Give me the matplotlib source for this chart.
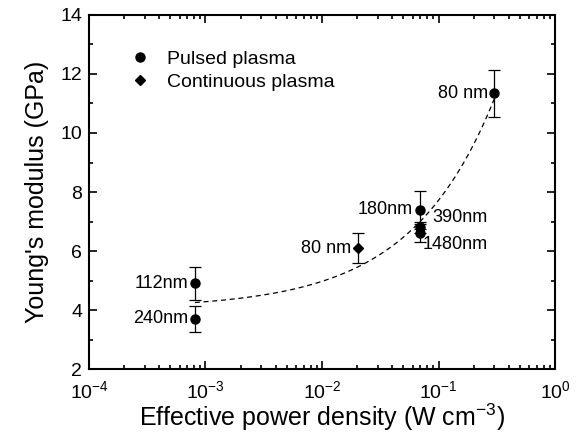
import numpy as np
import matplotlib
matplotlib.use("Agg")
from matplotlib import pyplot as plt
from matplotlib.ticker import MultipleLocator, LogLocator, NullFormatter

plt.rcParams['font.family'] = ['Liberation Sans', 'DejaVu Sans']
plt.rcParams['mathtext.fontset'] = 'custom'
plt.rcParams['mathtext.rm'] = 'Liberation Sans'

# Pulsed plasma data
pulsed_x = [8.1e-4, 8.1e-4, 0.069, 0.069, 0.069, 0.30]
pulsed_y = [4.9, 3.7, 7.4, 6.8, 6.6, 11.35]
pulsed_err = [0.55, 0.45, 0.65, 0.2, 0.3, 0.8]
pulsed_labels = ['112nm', '240nm', '180nm', '390nm', '1480nm', '80 nm']

# Continuous plasma data
cont_x = [0.0202]
cont_y = [6.1]
cont_err = [0.5]
cont_labels = ['80 nm']

# Fit curve y = a + b * x^c (parameters)
fit_a, fit_b, fit_c = 4.05, 14.6, 0.6
fit_xmin, fit_xmax = 8.1e-4, 0.30

fig = plt.figure(figsize=(5.87, 4.46), dpi=100)
ax = fig.add_axes([0.1516, 0.1726, 0.7939, 0.7938])

fx = np.logspace(np.log10(fit_xmin), np.log10(fit_xmax), 200)
ax.plot(fx, fit_a + fit_b * fx ** fit_c, 'k--', lw=0.9, dashes=(4, 3))

ax.errorbar(pulsed_x, pulsed_y, yerr=pulsed_err, fmt='none', ecolor='k',
            capsize=4, elinewidth=0.9, capthick=0.9)
ax.errorbar(cont_x, cont_y, yerr=cont_err, fmt='none', ecolor='k',
            capsize=4, elinewidth=0.9, capthick=0.9)
ax.plot(pulsed_x, pulsed_y, 'o', color='k', ms=6.5, ls='none', label='Pulsed plasma')
ax.plot(cont_x, cont_y, 'D', color='k', ms=5.5, ls='none', label='Continuous plasma')

# annotations
fs = 13
offsets = {'112nm': (-5, 0, 'right', 'center'),
           '240nm': (-5, 0, 'right', 'center'),
           '180nm': (-5, 0, 'right', 'center'),
           '390nm': (9, 7, 'left', 'center'),
           '1480nm': (2, -8, 'left', 'center'),
           '80 nm': (-4, 0, 'right', 'center')}
for x, y, t in zip(pulsed_x, pulsed_y, pulsed_labels):
    dx, dy, ha, va = offsets[t]
    ax.annotate(t, (x, y), xytext=(dx, dy), textcoords='offset points',
                ha=ha, va=va, fontsize=fs)
for x, y, t in zip(cont_x, cont_y, cont_labels):
    ax.annotate(t, (x, y), xytext=(-5, 0), textcoords='offset points',
                ha='right', va='center', fontsize=fs)

ax.set_xscale('log')
ax.set_xlim(1e-4, 1)
ax.set_ylim(2, 14)
ax.yaxis.set_major_locator(MultipleLocator(2))
ax.yaxis.set_minor_locator(MultipleLocator(1))
ax.xaxis.set_major_locator(LogLocator(base=10, numticks=10))
ax.xaxis.set_minor_locator(LogLocator(base=10, subs=np.arange(2, 10), numticks=10))
ax.xaxis.set_minor_formatter(NullFormatter())

ax.tick_params(which='both', direction='in', top=True, right=True, width=1.2)
ax.tick_params(which='major', length=6, labelsize=14)
ax.tick_params(which='minor', length=3)
ax.tick_params(axis='x', pad=8)
ax.tick_params(axis='y', pad=5)
for s in ax.spines.values():
    s.set_linewidth(1.5)

ax.set_xlabel(r'Effective power density (W cm$^{-3}$)', fontsize=18, labelpad=0)
ax.set_ylabel("Young's modulus (GPa)", fontsize=18, labelpad=8)

ax.legend(loc='upper left', bbox_to_anchor=(0.05, 0.95), frameon=False,
          fontsize=14, handletextpad=0.9, labelspacing=0.3, handlelength=1.0)

fig.savefig('out.png', dpi=100)
